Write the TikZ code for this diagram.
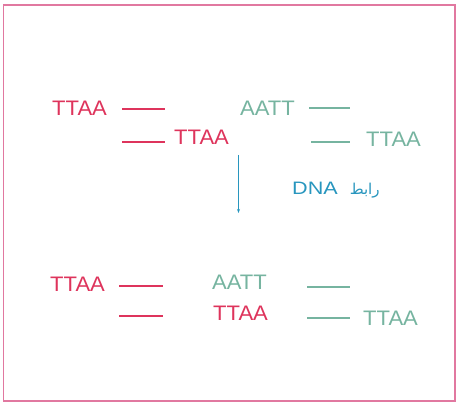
\documentclass[tikz,border=0pt]{standalone}
\usetikzlibrary{arrows.meta}
\usepackage{fontspec}
\setmainfont{Liberation Sans}
\newfontfamily\seqfont[FakeStretch=1.05]{Liberation Sans}
\newfontfamily\lblfont[FakeStretch=1.2]{Liberation Sans}
\newfontfamily\arabicfont[Script=Arabic]{DejaVu Sans}
\TeXXeTstate=1
\definecolor{seqred}{RGB}{222,52,92}
\definecolor{seqgreen}{RGB}{118,180,160}
\definecolor{seqblue}{RGB}{40,150,190}
\definecolor{framepink}{RGB}{225,120,160}
\begin{document}
\begin{tikzpicture}[x=1pt,y=-1pt,
  redseq/.style={text=seqred,font=\seqfont\fontsize{21}{21}\selectfont,inner sep=0pt,anchor=west},
  greenseq/.style={text=seqgreen,font=\seqfont\fontsize{21}{21}\selectfont,inner sep=0pt,anchor=west},
  redline/.style={draw=seqred,line width=1.6pt},
  greenline/.style={draw=seqgreen,line width=1.2pt},
  lbl/.style={text=seqblue,font=\lblfont\fontsize{18}{18}\selectfont,inner sep=0pt,anchor=west}]
\useasboundingbox (0,0) rectangle (458,403);
\draw[framepink,line width=1.5pt] (3.5,5) rectangle (455,401);
% row 1
\node[redseq] (r1) at (52,108) {TTAA};
\coordinate (r1a) at (122,109); \coordinate (r1b) at (165,109);
\draw[redline] (r1a) -- (r1b);
\node[greenseq] (g1) at (240,108) {AATT};
\coordinate (g1a) at (309,108); \coordinate (g1b) at (350,108);
\draw[greenline] (g1a) -- (g1b);
% row 2
\coordinate (r2a) at (122,142); \coordinate (r2b) at (165,142);
\draw[redline] (r2a) -- (r2b);
\node[redseq] (r2) at (174,137) {TTAA};
\coordinate (g2a) at (311,142); \coordinate (g2b) at (350,142);
\draw[greenline] (g2a) -- (g2b);
\node[greenseq] (g2) at (366,139) {TTAA};
% arrow
\coordinate (ar1) at (238.5,155); \coordinate (ar2) at (238.5,213);
\draw[seqblue,line width=0.9pt,-{Stealth[length=4pt,width=3pt]}] (ar1) -- (ar2);
\node[lbl] (lab) at (292,190) {\beginR{\arabicfont\fontsize{15}{15}\selectfont رابط}\hspace{12pt}\beginL DNA\endL\endR};
% row 3
\node[redseq] (r3) at (50,284) {TTAA};
\coordinate (r3a) at (119,286); \coordinate (r3b) at (163,286);
\draw[redline] (r3a) -- (r3b);
\node[greenseq] (g3) at (212,282) {AATT};
\coordinate (g3a) at (307,287); \coordinate (g3b) at (350,287);
\draw[greenline] (g3a) -- (g3b);
% row 4
\coordinate (r4a) at (119,316); \coordinate (r4b) at (163,316);
\draw[redline] (r4a) -- (r4b);
\node[redseq] (r4) at (213,313) {TTAA};
\coordinate (g4a) at (307,318); \coordinate (g4b) at (350,318);
\draw[greenline] (g4a) -- (g4b);
\node[greenseq] (g4) at (363,318) {TTAA};
\end{tikzpicture}
\end{document}
